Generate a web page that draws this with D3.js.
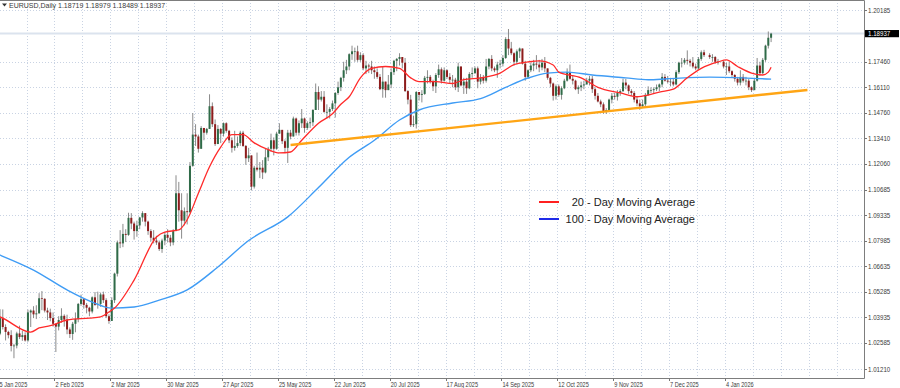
<!DOCTYPE html>
<html>
<head>
<meta charset="utf-8">
<script src="https://cdn.jsdelivr.net/npm/d3@7"></script>
<style>
  body { margin: 0; background: #fff; }
  svg text { font-family: "Liberation Sans", Arial, sans-serif; }
</style>
</head>
<body>
<div id="chart"></div>
<script>
// daily candles per month: [day, close, high, low]  (open = previous close)
const jan25 = [[2,1.0265,1.0375,1.0226],[3,1.0308,1.0316,1.0240],[6,1.0390,1.0437,1.0300],[7,1.0343,1.0436,1.0330],[8,1.0317,1.0357,1.0272],[9,1.0300,1.0323,1.0283],[10,1.0243,1.0326,1.0214],[13,1.0245,1.0254,1.0178],[14,1.0309,1.0318,1.0230],[15,1.0290,1.0350,1.0279],[16,1.0300,1.0323,1.0270],[17,1.0272,1.0315,1.0266],[20,1.0420,1.0435,1.0265],[21,1.0430,1.0436,1.0343],[22,1.0410,1.0453,1.0390],[23,1.0415,1.0458,1.0385],[24,1.0495,1.0522,1.0415],[27,1.0492,1.0533,1.0432],[28,1.0430,1.0495,1.0420],[29,1.0420,1.0445,1.0380],[30,1.0390,1.0440,1.0373],[31,1.0360,1.0420,1.0345]];
const feb25 = [[3,1.0345,1.0360,1.0211],[4,1.0380,1.0400,1.0325],[5,1.0402,1.0442,1.0365],[6,1.0382,1.0410,1.0345],[7,1.0330,1.0408,1.0305],[10,1.0306,1.0341,1.0285],[11,1.0360,1.0370,1.0275],[12,1.0385,1.0420,1.0315],[13,1.0465,1.0470,1.0368],[14,1.0490,1.0514,1.0455],[17,1.0460,1.0492,1.0440],[18,1.0445,1.0470,1.0415],[19,1.0425,1.0450,1.0400],[20,1.0500,1.0505,1.0415],[21,1.0460,1.0528,1.0455],[24,1.0465,1.0530,1.0440],[25,1.0515,1.0525,1.0450],[26,1.0485,1.0530,1.0470],[27,1.0400,1.0495,1.0390],[28,1.0375,1.0410,1.0360]];
const mar25 = [[3,1.0485,1.0500,1.0405],[4,1.0625,1.0630,1.0470],[5,1.0790,1.0800,1.0610],[6,1.0785,1.0855,1.0760],[7,1.0835,1.0888,1.0765],[10,1.0830,1.0860,1.0792],[11,1.0920,1.0947,1.0825],[12,1.0890,1.0945,1.0860],[13,1.0850,1.0900,1.0805],[14,1.0880,1.0905,1.0820],[17,1.0922,1.0925,1.0860],[18,1.0945,1.0955,1.0900],[19,1.0900,1.0945,1.0875],[20,1.0850,1.0905,1.0830],[21,1.0815,1.0860,1.0795],[24,1.0800,1.0855,1.0785],[25,1.0790,1.0825,1.0777],[26,1.0755,1.0800,1.0745],[27,1.0800,1.0810,1.0735],[28,1.0830,1.0845,1.0775],[31,1.0815,1.0860,1.0790]];
const apr25 = [[1,1.0790,1.0830,1.0770],[2,1.0850,1.0860,1.0775],[3,1.1050,1.1145,1.0850],[4,1.0960,1.1110,1.0900],[7,1.0905,1.1050,1.0810],[8,1.0955,1.0975,1.0880],[9,1.0950,1.1050,1.0885],[10,1.1195,1.1215,1.0945],[11,1.1360,1.1474,1.1190],[14,1.1350,1.1415,1.1300],[15,1.1285,1.1360,1.1265],[16,1.1395,1.1405,1.1285],[17,1.1370,1.1395,1.1330],[18,1.1390,1.1395,1.1360],[21,1.1510,1.1573,1.1390],[22,1.1415,1.1530,1.1400],[23,1.1310,1.1440,1.1300],[24,1.1390,1.1410,1.1320],[25,1.1365,1.1395,1.1315],[28,1.1420,1.1424,1.1350],[29,1.1380,1.1425,1.1370],[30,1.1330,1.1385,1.1315]];
const may25 = [[1,1.1290,1.1345,1.1265],[2,1.1300,1.1380,1.1275],[5,1.1315,1.1350,1.1290],[6,1.1370,1.1380,1.1300],[7,1.1300,1.1380,1.1295],[8,1.1235,1.1305,1.1200],[9,1.1250,1.1290,1.1215],[12,1.1085,1.1245,1.1065],[13,1.1185,1.1195,1.1075],[14,1.1175,1.1265,1.1165],[15,1.1185,1.1215,1.1130],[16,1.1160,1.1225,1.1125],[19,1.1240,1.1285,1.1155],[20,1.1285,1.1295,1.1220],[21,1.1330,1.1365,1.1270],[22,1.1285,1.1345,1.1250],[23,1.1365,1.1375,1.1280],[26,1.1385,1.1420,1.1365],[27,1.1325,1.1385,1.1310],[28,1.1290,1.1335,1.1265],[29,1.1370,1.1385,1.1210],[30,1.1350,1.1385,1.1335]];
const jun25 = [[2,1.1445,1.1455,1.1350],[3,1.1370,1.1450,1.1355],[4,1.1420,1.1435,1.1355],[5,1.1445,1.1495,1.1395],[6,1.1395,1.1450,1.1370],[9,1.1420,1.1430,1.1385],[10,1.1425,1.1450,1.1395],[11,1.1490,1.1495,1.1405],[12,1.1585,1.1630,1.1490],[13,1.1545,1.1615,1.1490],[16,1.1560,1.1590,1.1535],[17,1.1480,1.1590,1.1475],[18,1.1480,1.1520,1.1445],[19,1.1495,1.1505,1.1445],[20,1.1525,1.1540,1.1485],[23,1.1580,1.1585,1.1450],[24,1.1610,1.1640,1.1570],[25,1.1660,1.1665,1.1590],[26,1.1700,1.1745,1.1640],[27,1.1720,1.1755,1.1680],[30,1.1785,1.1790,1.1700]];
const jul25 = [[1,1.1800,1.1830,1.1755],[2,1.1800,1.1820,1.1745],[3,1.1755,1.1830,1.1745],[4,1.1780,1.1795,1.1745],[7,1.1710,1.1790,1.1700],[8,1.1725,1.1750,1.1680],[9,1.1720,1.1735,1.1685],[10,1.1700,1.1750,1.1680],[11,1.1690,1.1720,1.1655],[14,1.1665,1.1710,1.1655],[15,1.1600,1.1680,1.1595],[16,1.1640,1.1720,1.1555],[17,1.1595,1.1640,1.1555],[18,1.1625,1.1675,1.1595],[21,1.1690,1.1710,1.1605],[22,1.1750,1.1755,1.1675],[23,1.1760,1.1765,1.1695],[24,1.1770,1.1790,1.1725],[25,1.1740,1.1760,1.1710],[28,1.1590,1.1765,1.1585],[29,1.1545,1.1595,1.1520],[30,1.1410,1.1570,1.1400],[31,1.1415,1.1460,1.1400]];
const aug25 = [[1,1.1585,1.1590,1.1392],[4,1.1570,1.1585,1.1540],[5,1.1575,1.1595,1.1530],[6,1.1660,1.1670,1.1570],[7,1.1665,1.1700,1.1630],[8,1.1640,1.1675,1.1630],[11,1.1615,1.1650,1.1590],[12,1.1675,1.1685,1.1580],[13,1.1705,1.1730,1.1660],[14,1.1645,1.1715,1.1630],[15,1.1700,1.1715,1.1640],[18,1.1665,1.1705,1.1655],[19,1.1650,1.1685,1.1630],[20,1.1650,1.1675,1.1610],[21,1.1610,1.1660,1.1595],[22,1.1720,1.1740,1.1585],[25,1.1620,1.1715,1.1615],[26,1.1640,1.1660,1.1575],[27,1.1605,1.1660,1.1575],[28,1.1680,1.1690,1.1600],[29,1.1685,1.1715,1.1660]];
const sep25 = [[1,1.1710,1.1720,1.1680],[2,1.1640,1.1720,1.1605],[3,1.1660,1.1680,1.1625],[4,1.1645,1.1675,1.1630],[5,1.1720,1.1760,1.1635],[8,1.1760,1.1765,1.1705],[9,1.1710,1.1780,1.1695],[10,1.1700,1.1720,1.1690],[11,1.1730,1.1745,1.1660],[12,1.1735,1.1755,1.1710],[15,1.1765,1.1780,1.1720],[16,1.1865,1.1875,1.1760],[17,1.1815,1.1918,1.1780],[18,1.1790,1.1850,1.1780],[19,1.1745,1.1795,1.1725],[22,1.1800,1.1810,1.1730],[23,1.1815,1.1820,1.1765],[24,1.1735,1.1815,1.1730],[25,1.1665,1.1750,1.1645],[26,1.1700,1.1705,1.1655],[29,1.1725,1.1740,1.1690],[30,1.1735,1.1755,1.1695]];
const oct25 = [[1,1.1730,1.1780,1.1705],[2,1.1715,1.1755,1.1690],[3,1.1740,1.1760,1.1700],[6,1.1710,1.1770,1.1690],[7,1.1660,1.1710,1.1650],[8,1.1630,1.1665,1.1610],[9,1.1565,1.1635,1.1540],[10,1.1615,1.1625,1.1545],[13,1.1570,1.1625,1.1560],[14,1.1605,1.1615,1.1545],[15,1.1645,1.1655,1.1600],[16,1.1690,1.1710,1.1640],[17,1.1655,1.1730,1.1650],[20,1.1645,1.1670,1.1625],[21,1.1600,1.1650,1.1595],[22,1.1610,1.1620,1.1575],[23,1.1620,1.1640,1.1590],[24,1.1625,1.1645,1.1600],[27,1.1645,1.1660,1.1625],[28,1.1655,1.1670,1.1620],[29,1.1600,1.1670,1.1580],[30,1.1565,1.1610,1.1545],[31,1.1535,1.1580,1.1530]];
const nov25 = [[3,1.1520,1.1545,1.1505],[4,1.1480,1.1530,1.1470],[5,1.1490,1.1500,1.1469],[6,1.1545,1.1550,1.1480],[7,1.1565,1.1580,1.1525],[10,1.1560,1.1580,1.1545],[11,1.1580,1.1595,1.1540],[12,1.1590,1.1600,1.1565],[13,1.1635,1.1655,1.1585],[14,1.1620,1.1655,1.1600],[17,1.1590,1.1625,1.1575],[18,1.1580,1.1600,1.1565],[19,1.1545,1.1590,1.1530],[20,1.1525,1.1560,1.1510],[21,1.1510,1.1545,1.1491],[24,1.1520,1.1545,1.1500],[25,1.1570,1.1580,1.1510],[26,1.1595,1.1615,1.1565],[27,1.1595,1.1610,1.1580],[28,1.1600,1.1610,1.1575]];
const dec25 = [[1,1.1610,1.1625,1.1590],[2,1.1625,1.1630,1.1590],[3,1.1665,1.1685,1.1610],[4,1.1645,1.1680,1.1640],[5,1.1640,1.1670,1.1630],[8,1.1640,1.1660,1.1615],[9,1.1625,1.1655,1.1615],[10,1.1690,1.1700,1.1620],[11,1.1740,1.1745,1.1680],[12,1.1740,1.1765,1.1715],[15,1.1755,1.1765,1.1730],[16,1.1750,1.1805,1.1730],[17,1.1740,1.1760,1.1720],[18,1.1720,1.1770,1.1710],[19,1.1710,1.1735,1.1700],[22,1.1760,1.1770,1.1705],[23,1.1795,1.1805,1.1750],[24,1.1780,1.1808,1.1770],[26,1.1770,1.1790,1.1760],[29,1.1770,1.1785,1.1745],[30,1.1745,1.1775,1.1735],[31,1.1745,1.1760,1.1730]];
const jan26 = [[2,1.1720,1.1750,1.1710],[5,1.1720,1.1740,1.1675],[6,1.1695,1.1745,1.1685],[7,1.1675,1.1700,1.1665],[8,1.1655,1.1680,1.1640],[9,1.1635,1.1665,1.1620],[12,1.1665,1.1700,1.1620],[13,1.1645,1.1680,1.1635],[14,1.1645,1.1665,1.1620],[15,1.1610,1.1655,1.1595],[16,1.1595,1.1615,1.1585],[19,1.1645,1.1660,1.1600],[20,1.1725,1.1765,1.1640],[21,1.1685,1.1745,1.1670],[22,1.1755,1.1765,1.1680],[23,1.1830,1.1835,1.1745],[26,1.18719,1.1905,1.1815],[27,1.18937,1.18979,1.18489]];
const firstOpen = 1.0350;

// moving averages: [date, value]
const ma20 = [["2025-01-02",1.0405],["2025-01-06",1.0396],["2025-01-21",1.0316],["2025-01-24",1.0338],["2025-01-30",1.0350],["2025-02-07",1.0380],["2025-02-19",1.0390],["2025-02-25",1.0396],["2025-02-28",1.0422],["2025-03-04",1.0443],["2025-03-13",1.0591],["2025-03-25",1.0819],["2025-03-28",1.0845],["2025-04-04",1.0856],["2025-04-09",1.0910],["2025-04-15",1.1050],["2025-04-21",1.1190],["2025-04-25",1.1294],["2025-05-01",1.1360],["2025-05-07",1.1360],["2025-05-13",1.1316],["2025-05-20",1.1280],["2025-05-26",1.1263],["2025-05-30",1.1268],["2025-06-05",1.1330],["2025-06-13",1.1420],["2025-06-20",1.1470],["2025-06-25",1.1520],["2025-06-30",1.1560],["2025-07-04",1.1660],["2025-07-10",1.1710],["2025-07-17",1.1720],["2025-07-24",1.1710],["2025-07-30",1.1660],["2025-08-04",1.1640],["2025-08-12",1.1640],["2025-08-20",1.1630],["2025-08-26",1.1650],["2025-09-03",1.1660],["2025-09-12",1.1685],["2025-09-19",1.1730],["2025-09-26",1.1744],["2025-10-02",1.1750],["2025-10-09",1.1728],["2025-10-13",1.1690],["2025-10-23",1.1660],["2025-10-31",1.1610],["2025-11-12",1.1580],["2025-11-20",1.1560],["2025-11-26",1.1569],["2025-12-02",1.1585],["2025-12-09",1.1600],["2025-12-16",1.1660],["2025-12-23",1.1710],["2025-12-31",1.1744],["2026-01-05",1.1755],["2026-01-09",1.1720],["2026-01-16",1.1685],["2026-01-22",1.1675],["2026-01-26",1.1690],["2026-01-27",1.1716]];
const ma100 = [["2025-01-02",1.0735],["2025-01-06",1.0723],["2025-01-22",1.0644],["2025-02-07",1.0539],["2025-02-20",1.0475],["2025-03-03",1.0443],["2025-03-13",1.0449],["2025-03-26",1.0485],["2025-04-09",1.0539],["2025-04-24",1.0660],["2025-05-09",1.0800],["2025-05-29",1.0925],["2025-06-13",1.1080],["2025-06-30",1.1240],["2025-07-11",1.1330],["2025-07-24",1.1437],["2025-08-04",1.1490],["2025-08-20",1.1527],["2025-09-03",1.1550],["2025-09-16",1.1610],["2025-09-26",1.1659],["2025-10-07",1.1685],["2025-10-16",1.1690],["2025-10-29",1.1675],["2025-11-14",1.1660],["2025-11-26",1.1650],["2025-12-05",1.1655],["2025-12-26",1.1664],["2026-01-13",1.1660],["2026-01-27",1.1653]];

// support trendline
const trend = [["2025-05-30",1.1305],["2026-02-13",1.1596]];

// price scale labels and labelled dates
const yTicks = [1.20185,1.17460,1.16110,1.14760,1.13410,1.12060,1.10685,1.09335,1.07985,1.06635,1.05285,1.03935,1.02585,1.01210];
const xTickDates = ["2025-01-05","2025-02-02","2025-03-02","2025-03-30","2025-04-27","2025-05-25","2025-06-22","2025-07-20","2025-08-17","2025-09-14","2025-10-12","2025-11-09","2025-12-07","2026-01-04"];

const legendItems = [
  {label: "20 - Day Moving Average", color: "#ff2020"},
  {label: "100 - Day Moving Average", color: "#1f2be8"}
];

const W = 900, H = 388;
const plotW = 864, plotH = 378;

const parse = d3.timeParse("%Y-%m-%d");
const refSunday = new Date(2025, 0, 5);

// trading slot: Mon..Fri -> 0..4 per week, Sunday sits half a bar before Monday
function slotOf(date) {
  const days = d3.timeDay.count(refSunday, date);
  const w = Math.floor(days / 7), r = days - 7 * w;
  return r === 0 ? w * 5 - 0.5 : w * 5 + (r - 1);
}

// build candles
const months = [[2025,0,jan25],[2025,1,feb25],[2025,2,mar25],[2025,3,apr25],[2025,4,may25],[2025,5,jun25],
  [2025,6,jul25],[2025,7,aug25],[2025,8,sep25],[2025,9,oct25],[2025,10,nov25],[2025,11,dec25],[2026,0,jan26]];
let candles = [];
let prevClose = firstOpen;
months.forEach(([yr, mo, rows]) => {
  rows.forEach(r => {
    candles.push({date: new Date(yr, mo, r[0]), open: prevClose, close: r[1], high: r[2], low: r[3]});
    prevClose = r[1];
  });
});
const last = candles[candles.length - 1];

const x = d3.scaleLinear().domain([-0.5, 259.5]).range([-1.4, 725]);
const y = d3.scaleLinear().domain([1.00735, 1.20714]).range([plotH, 0]);

const svg = d3.select("#chart").append("svg")
  .attr("width", W).attr("height", H)
  .style("display", "block");

svg.append("defs").append("clipPath").attr("id", "plotClip")
  .append("rect").attr("x", 0).attr("y", 0).attr("width", plotW).attr("height", plotH);

// grid
const grid = svg.append("g").attr("class", "grid");
grid.selectAll("line.h").data(yTicks).enter().append("line")
  .attr("class", "h")
  .attr("x1", 0).attr("x2", plotW)
  .attr("y1", d => Math.round(y(d)) + 0.5).attr("y2", d => Math.round(y(d)) + 0.5)
  .attr("stroke", "#c9d3e3").attr("stroke-dasharray", "1,2");

const gridWeeks = d3.timeSunday.range(new Date(2024, 11, 22), new Date(2026, 2, 20), 2);
grid.selectAll("line.v").data(gridWeeks).enter().append("line")
  .attr("class", "v")
  .attr("x1", d => Math.round(x(slotOf(d))) + 0.5).attr("x2", d => Math.round(x(slotOf(d))) + 0.5)
  .attr("y1", 0).attr("y2", plotH)
  .attr("stroke", "#c9d3e3").attr("stroke-dasharray", "1,2")
  .style("display", d => (x(slotOf(d)) > 0 && x(slotOf(d)) < plotW) ? null : "none");

// bid line
svg.append("line")
  .attr("x1", 0).attr("x2", plotW)
  .attr("y1", y(last.close)).attr("y2", y(last.close))
  .attr("stroke", "#dbe3ee").attr("stroke-width", 2);

const plot = svg.append("g").attr("clip-path", "url(#plotClip)");

// candles
const cg = plot.append("g").attr("class", "candles");
cg.selectAll("line").data(candles).enter().append("line")
  .attr("x1", d => x(slotOf(d.date))).attr("x2", d => x(slotOf(d.date)))
  .attr("y1", d => y(Math.max(d.high, d.open, d.close)))
  .attr("y2", d => y(Math.min(d.low, d.open, d.close)))
  .attr("stroke", "#8a8a8a").attr("stroke-width", 1);
cg.selectAll("rect").data(candles).enter().append("rect")
  .attr("x", d => x(slotOf(d.date)) - 1)
  .attr("width", 2)
  .attr("y", d => y(Math.max(d.open, d.close)))
  .attr("height", d => Math.max(0.7, Math.abs(y(d.open) - y(d.close))))
  .attr("fill", d => d.close >= d.open ? "#2f6b48" : "#8e1c1c");

// moving averages
const maLine = d3.line()
  .x(d => x(slotOf(parse(d[0]))))
  .y(d => y(d[1]))
  .curve(d3.curveMonotoneX);
plot.append("path").datum(ma100)
  .attr("d", maLine).attr("fill", "none")
  .attr("stroke", "#3f9cf5").attr("stroke-width", 1.4);
plot.append("path").datum(ma20)
  .attr("d", maLine).attr("fill", "none")
  .attr("stroke", "#ff2a2a").attr("stroke-width", 1.3);

// trendline
plot.append("path").datum(trend)
  .attr("d", d3.line().x(d => x(slotOf(parse(d[0])))).y(d => y(d[1])))
  .attr("fill", "none").attr("stroke", "#ffa514").attr("stroke-width", 2.4);

// frame
svg.append("path")
  .attr("d", `M0,0.5H${plotW + 0.5}V${plotH + 0.5}H0`)
  .attr("fill", "none").attr("stroke", "#7d7d7d").attr("stroke-width", 1);

// price axis
const ya = svg.append("g").attr("class", "y-axis");
ya.selectAll("line").data(yTicks).enter().append("line")
  .attr("x1", plotW).attr("x2", plotW + 3)
  .attr("y1", d => Math.round(y(d)) + 0.5).attr("y2", d => Math.round(y(d)) + 0.5)
  .attr("stroke", "#777");
ya.selectAll("text").data(yTicks).enter().append("text")
  .attr("transform", d => `translate(868,${y(d) + 2.5}) scale(0.88,1)`)
  .attr("font-size", 7).attr("fill", "#3a3a3a")
  .text(d => d.toFixed(5));

// current price tag
svg.append("rect")
  .attr("x", plotW + 1).attr("y", y(last.close) - 3.6)
  .attr("width", 34).attr("height", 7.2).attr("fill", "#000");
svg.append("text")
  .attr("transform", `translate(868,${y(last.close) + 2.5}) scale(0.88,1)`)
  .attr("font-size", 7).attr("fill", "#fff")
  .text(last.close.toFixed(5));

// time axis
const xa = svg.append("g").attr("class", "x-axis");
const xDates = xTickDates.map(parse);
xa.selectAll("line").data(xDates).enter().append("line")
  .attr("x1", d => Math.round(x(slotOf(d))) + 0.5).attr("x2", d => Math.round(x(slotOf(d))) + 0.5)
  .attr("y1", plotH).attr("y2", plotH + 3)
  .attr("stroke", "#777");
xa.selectAll("text").data(xDates).enter().append("text")
  .attr("transform", d => `translate(${x(slotOf(d)) + 1},386.5) scale(0.8,1)`)
  .attr("font-size", 7).attr("fill", "#3a3a3a")
  .text(d3.timeFormat("%-d %b %Y"));

// title
svg.append("path").attr("d", "M2,3.5L7,3.5L4.5,6.5Z").attr("fill", "#333");
svg.append("text")
  .attr("x", 9).attr("y", 7.5)
  .attr("font-size", 7).attr("fill", "#3a3a3a")
  .text(`EURUSD,Daily ${last.open.toFixed(5)} ${last.high.toFixed(5)} ${last.low.toFixed(5)} ${last.close.toFixed(5)}`);

// legend
const lg = svg.append("g").attr("transform", "translate(538,202)");
const li = lg.selectAll("g").data(legendItems).enter().append("g")
  .attr("transform", (d, i) => `translate(0,${i * 17})`);
li.append("line").attr("x1", 1).attr("x2", 21).attr("y1", 0).attr("y2", 0)
  .attr("stroke", d => d.color).attr("stroke-width", 2);
li.append("text")
  .attr("x", 157).attr("y", 4)
  .attr("text-anchor", "end")
  .attr("font-size", 11).attr("fill", "#222")
  .text(d => d.label);
</script>
</body>
</html>
